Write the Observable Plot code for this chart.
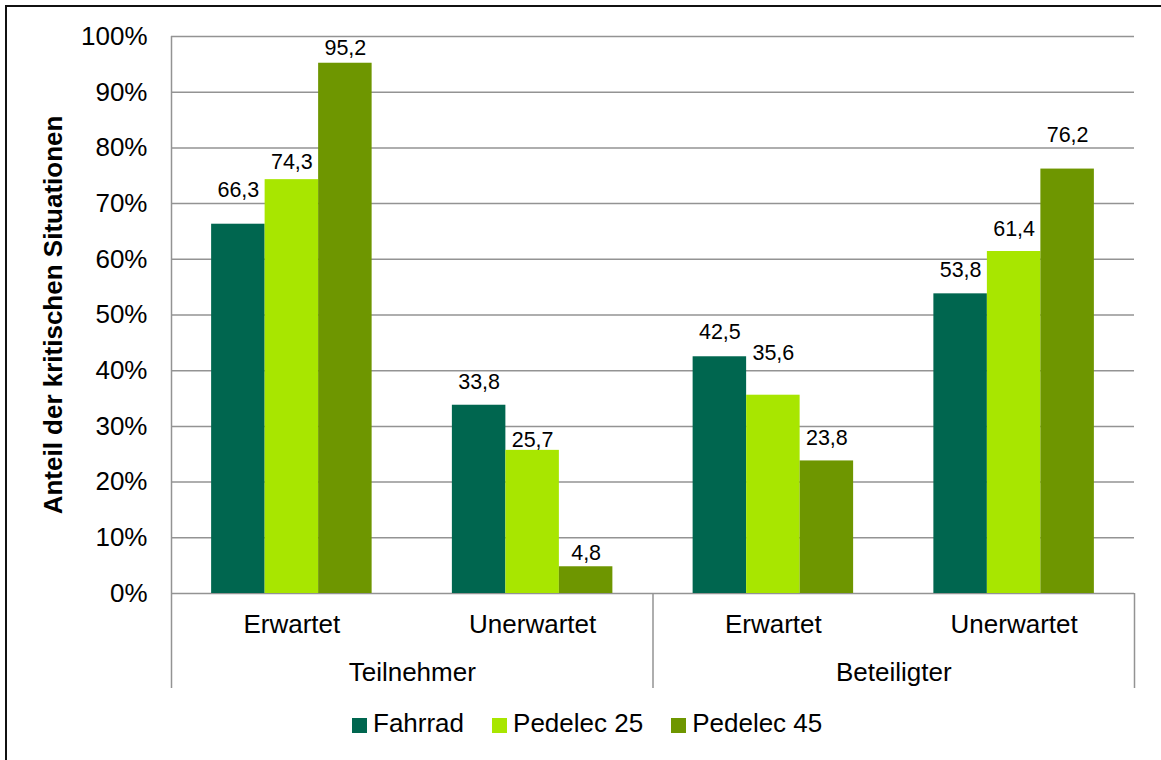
<!DOCTYPE html>
<html>
<head>
<meta charset="utf-8">
<script src="https://cdn.jsdelivr.net/npm/d3@7"></script>
<script src="https://cdn.jsdelivr.net/npm/@observablehq/plot@0.6"></script>
<style>
  html, body { margin: 0; padding: 0; background: #fff; }
  #wrap { position: relative; width: 1161px; height: 760px; overflow: hidden; font-family: "Liberation Sans", Arial, sans-serif; }
  #border { position: absolute; left: 5px; top: 5px; width: 1200px; height: 800px; border-left: 2px solid #111; border-top: 2px solid #111; pointer-events: none; }
  #legend { position: absolute; left: 352px; top: 710px; display: flex; align-items: center; font-size: 26px; line-height: 27px; color: #000; }
  .item { display: flex; align-items: center; margin-right: 28px; }
  .sw { width: 15px; height: 15px; margin-right: 6px; margin-top: 3px; }
</style>
</head>
<body>
<div id="wrap">
  <div id="chart"></div>
  <div id="legend"></div>
  <div id="border"></div>
</div>
<script>
// ---- data ----
const groups = ["Teilnehmer", "Beteiligter"];
const situations = ["Erwartet", "Unerwartet", "Erwartet", "Unerwartet"];
const categoryGroup = ["Teilnehmer", "Teilnehmer", "Beteiligter", "Beteiligter"];
const series = ["Fahrrad", "Pedelec 25", "Pedelec 45"];
const fahrrad = [66.3, 33.8, 42.5, 53.8];
const pedelec25 = [74.3, 25.7, 35.6, 61.4];
const pedelec45 = [95.2, 4.8, 23.8, 76.2];
const yTicks = [0, 10, 20, 30, 40, 50, 60, 70, 80, 90, 100];
const yTitle = "Anteil der kritischen Situationen";

// ---- styling / label placement (label centre above bar top, in % units) ----
const colors = ["#00664f", "#a8e600", "#6e9600"];
const labelLift = [
  [6.1, 4.1, 4.5, 4.3],
  [3.1, 1.8, 7.5, 4.1],
  [2.7, 2.5, 4.1, 6.1]
];

const seriesValues = [fahrrad, pedelec25, pedelec45];
const bars = [];
situations.forEach((sit, i) => {
  series.forEach((s, j) => {
    bars.push({
      cat: i, situation: sit, group: categoryGroup[i], series: s, si: j,
      value: seriesValues[j][i], lift: labelLift[j][i]
    });
  });
});
// within each category band [i, i+1]: cluster occupies the middle 2/3
const barW = 2 / 9;
const x1 = d => d.cat + 1 / 6 + d.si * barW;
const x2 = d => x1(d) + barW;
const xc = d => x1(d) + barW / 2;
const fmt = v => v.toFixed(1).replace(".", ",");

const cats = situations.map((s, i) => ({s, i}));
const grp = groups.map((g, k) => ({g, k}));

const plot = Plot.plot({
  width: 1161,
  height: 700,
  marginLeft: 171,
  marginRight: 27,
  marginTop: 36,
  marginBottom: 107,
  style: { fontFamily: "Liberation Sans, Arial, sans-serif", fontSize: "26px", color: "#000", background: "transparent", overflow: "visible" },
  x: { domain: [0, situations.length], axis: null },
  y: { domain: [0, 100], ticks: yTicks, tickFormat: d => d + "%", tickSize: 0, tickPadding: 24, label: null },
  color: { domain: series, range: colors },
  marks: [
    Plot.ruleY(yTicks, { stroke: "#939393", strokeWidth: 1.5 }),
    Plot.ruleX([0], { stroke: "#939393", strokeWidth: 1.5 }),
    Plot.rectY(bars, { x1, x2, y1: 0, y2: "value", fill: "series" }),
    Plot.text(bars, { x: xc, y: d => d.value + d.lift, text: d => fmt(d.value), fontSize: 21.5, fill: "#000" }),
    // group separators below the axis
    Plot.ruleX([0, 2, 4], { y1: 0, y2: 0, insetBottom: -95, stroke: "#939393", strokeWidth: 1.5 }),
    Plot.text(cats, { x: d => d.i + 0.5, frameAnchor: "bottom", lineAnchor: "middle", dy: 31, text: "s", fontSize: 26, fill: "#000" }),
    Plot.text(grp, { x: d => d.k * 2 + 1, frameAnchor: "bottom", lineAnchor: "middle", dy: 79, text: "g", fontSize: 26, fill: "#000" }),
    Plot.text([yTitle], { frameAnchor: "left", textAnchor: "middle", rotate: -90, dx: -118, text: d => d, fontSize: 26, fontWeight: "bold", fill: "#000" })
  ]
});
document.getElementById("chart").appendChild(plot);

const legend = document.getElementById("legend");
series.forEach((s, j) => {
  const it = document.createElement("div");
  it.className = "item";
  const sw = document.createElement("div");
  sw.className = "sw";
  sw.style.background = colors[j];
  const tx = document.createElement("span");
  tx.textContent = s;
  it.appendChild(sw); it.appendChild(tx);
  legend.appendChild(it);
});
</script>
</body>
</html>
